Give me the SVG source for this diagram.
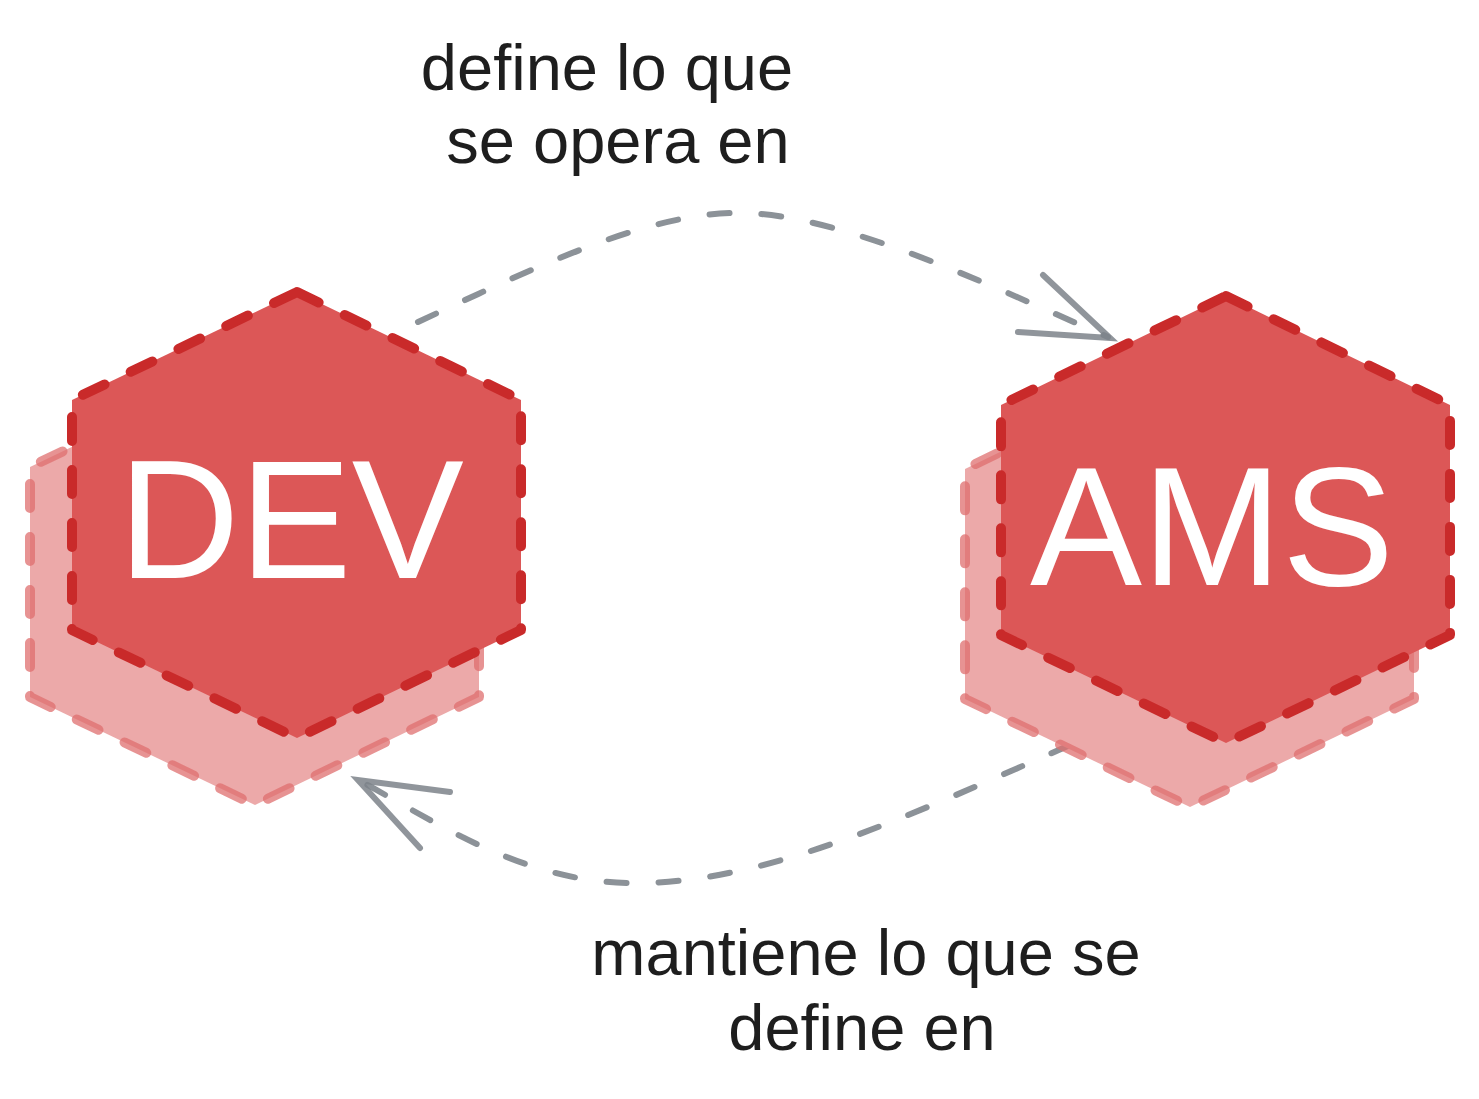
<svg xmlns="http://www.w3.org/2000/svg" width="1479" height="1099" viewBox="0 0 1479 1099">
<style>
.back{fill:#eca9a9;stroke:#df6f6f;stroke-opacity:0.75;stroke-width:10;stroke-dasharray:24 29;stroke-linecap:round;stroke-linejoin:round}
.front{fill:#dc5757;stroke:#c92a2a;stroke-width:10;stroke-dasharray:24 29;stroke-linecap:round;stroke-linejoin:round}
.big{font-family:"Liberation Sans",Arial,sans-serif;font-size:168px;fill:#ffffff;text-anchor:middle}
.lbl{font-family:"Liberation Sans",Arial,sans-serif;font-size:65px;fill:#1e1e1e;text-anchor:middle}
.conn{fill:none;stroke:#8c9298;stroke-width:6;stroke-linecap:round;stroke-dasharray:20 32}
.head{fill:none;stroke:#7c838a;stroke-width:6;stroke-linecap:round;stroke-opacity:0.85}
</style>
<rect width="1479" height="1099" fill="#ffffff"/>
<g id="connectors">
  <path class="conn" d="M418,322 C530,270 650,210 745,213 C850,216 1010,295 1108,337"/>
  <path class="head" d="M1043,275 L1110,338 L1018,332"/>
  <path class="conn" d="M1070,745 C900,820 760,885 630,883 C520,882 430,818 360,781"/>
  <path class="head" d="M450,792 L358,780 L420,848"/>
</g>
<g id="node-dev">
  <polygon class="back" points="255,359 479,467 479,697 255,805 30,697 30,467"/>
  <polygon class="front" points="297,292 521,400 521,630 297,738 72,630 72,400"/>
  <text class="big" x="291" y="578">DEV</text>
</g>
<g id="node-ams">
  <polygon class="back" points="1190,360 1414,469 1414,699 1190,807 965,699 965,469"/>
  <polygon class="front" points="1226,296 1450,405 1450,635 1226,743 1001,635 1001,405"/>
  <text class="big" x="1212" y="585">AMS</text>
</g>
<g id="labels">
  <text class="lbl" x="607" y="90">define lo que</text>
  <text class="lbl" x="618" y="163">se opera en</text>
  <text class="lbl" x="866" y="975">mantiene lo que se</text>
  <text class="lbl" x="862" y="1050">define en</text>
</g>
</svg>
